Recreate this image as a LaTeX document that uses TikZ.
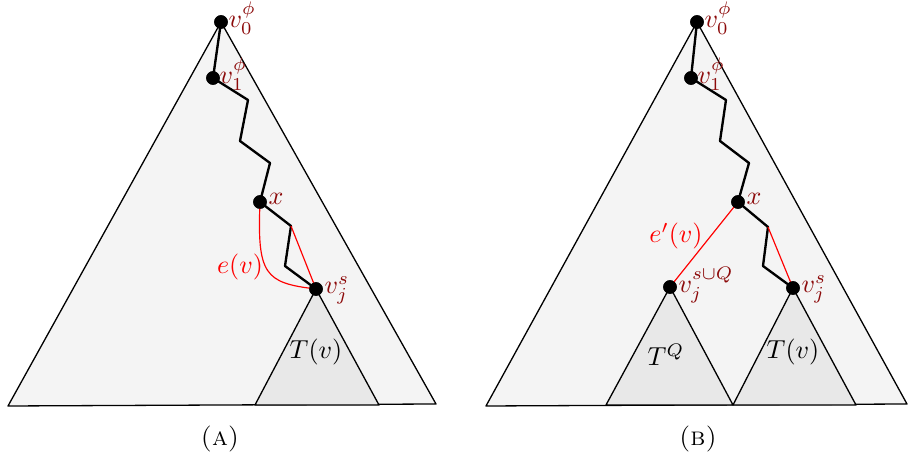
\documentclass[tikz,border=0pt]{standalone}
\begin{document}
\begin{tikzpicture}[x=0.0135cm,y=-0.0135cm,
  bigtri/.style={draw=black,fill=black!4.5,line width=0.5pt,line join=round},
  subtri/.style={draw=black,fill=black!9,line width=0.5pt,line join=round},
  spine/.style={draw=black,line width=0.9pt,line join=round},
  redline/.style={draw=red,line width=0.45pt},
  dot/.style={circle,fill=black,inner sep=0pt,minimum size=5.2pt},
  lab/.style={text={rgb,255:red,140;green,10;blue,10},inner sep=0pt,anchor=west},
  elab/.style={text=red,inner sep=0pt}]
\useasboundingbox (0,0) rectangle (908,461);
% ---------- panel A ----------
\coordinate (Aa) at (221,22);
\coordinate (Al) at (8,406);
\coordinate (Ar) at (436,404);
\draw[bigtri] (Aa) -- (Al) -- (Ar) -- cycle;
\coordinate (ATl) at (255,405);
\coordinate (ATr) at (379,405);
\draw[subtri] (316,289) -- (ATl) -- (ATr) -- cycle;
\coordinate (Ap1) at (248,100);
\coordinate (Ap2) at (240,141);
\coordinate (Ap3) at (270,163);
\coordinate (Ap4) at (291,226);
\coordinate (Ap5) at (285,266);
\node[dot] (Av0) at (221,22) {};
\node[dot] (Av1) at (213,78) {};
\node[dot] (Ax) at (260,202) {};
\node[dot] (Avs) at (316,289) {};
\draw[spine] (Av0.center) -- (Av1.center) -- (Ap1) -- (Ap2) -- (Ap3) -- (Ax.center) -- (Ap4) -- (Ap5) -- (Avs.center);
\draw[redline] (Ap4) -- (Avs.center);
\draw[redline] (Ax.center) .. controls (257,275) and (265,283) .. (Avs.center);
\node[dot] at (Av0) {};
\node[dot] at (Av1) {};
\node[dot] at (Ax) {};
\node[dot] at (Avs) {};
\node[lab] (Lv0) at (228,18) {$v_0^\phi$};
\node[lab] (Lv1) at (219,74) {$v_1^\phi$};
\node[lab] (Lx) at (268,199) {$x$};
\node[lab] (Lvs) at (324,290) {$v_j^s$};
\node[elab] (Le) at (240,267) {$e(v)$};
\node (LT) at (316,352) {$T(v)$};
\node (capA) at (220,439) {\textsc{(a)}};
% ---------- panel B ----------
\coordinate (Ba) at (697,22);
\coordinate (Bl) at (486,406);
\coordinate (Br) at (907,404);
\draw[bigtri] (Ba) -- (Bl) -- (Br) -- cycle;
\draw[subtri] (670,287) -- (606,405) -- (733,405) -- cycle;
\draw[subtri] (793,288) -- (733,405) -- (856,405) -- cycle;
\coordinate (Bp1) at (726,100);
\coordinate (Bp2) at (720,141);
\coordinate (Bp3) at (749,163);
\coordinate (Bp4) at (768,227);
\coordinate (Bp5) at (763,266);
\node[dot] (Bv0) at (697,22) {};
\node[dot] (Bv1) at (691,78) {};
\node[dot] (Bx) at (738,202) {};
\node[dot] (Bvs) at (793,288) {};
\node[dot] (Bvq) at (670,287) {};
\draw[spine] (Bv0.center) -- (Bv1.center) -- (Bp1) -- (Bp2) -- (Bp3) -- (Bx.center) -- (Bp4) -- (Bp5) -- (Bvs.center);
\draw[redline] (Bp4) -- (Bvs.center);
\draw[redline] (Bx.center) -- (Bvq.center);
\node[dot] at (Bv0) {};
\node[dot] at (Bv1) {};
\node[dot] at (Bx) {};
\node[dot] at (Bvs) {};
\node[dot] at (Bvq) {};
\node[lab] (BLv0) at (704,18) {$v_0^\phi$};
\node[lab] (BLv1) at (697,74) {$v_1^\phi$};
\node[lab] (BLx) at (746,199) {$x$};
\node[lab] (BLvs) at (801,289) {$v_j^s$};
\node[lab] (BLvq) at (678,285) {$v_j^{s\cup Q}$};
\node[elab] (BLe) at (676,236) {$e'(v)$};
\node (BLTQ) at (666,355) {$T^Q$};
\node (BLT) at (793,352) {$T(v)$};
\node (capB) at (698,439) {\textsc{(b)}};
\end{tikzpicture}
\end{document}
